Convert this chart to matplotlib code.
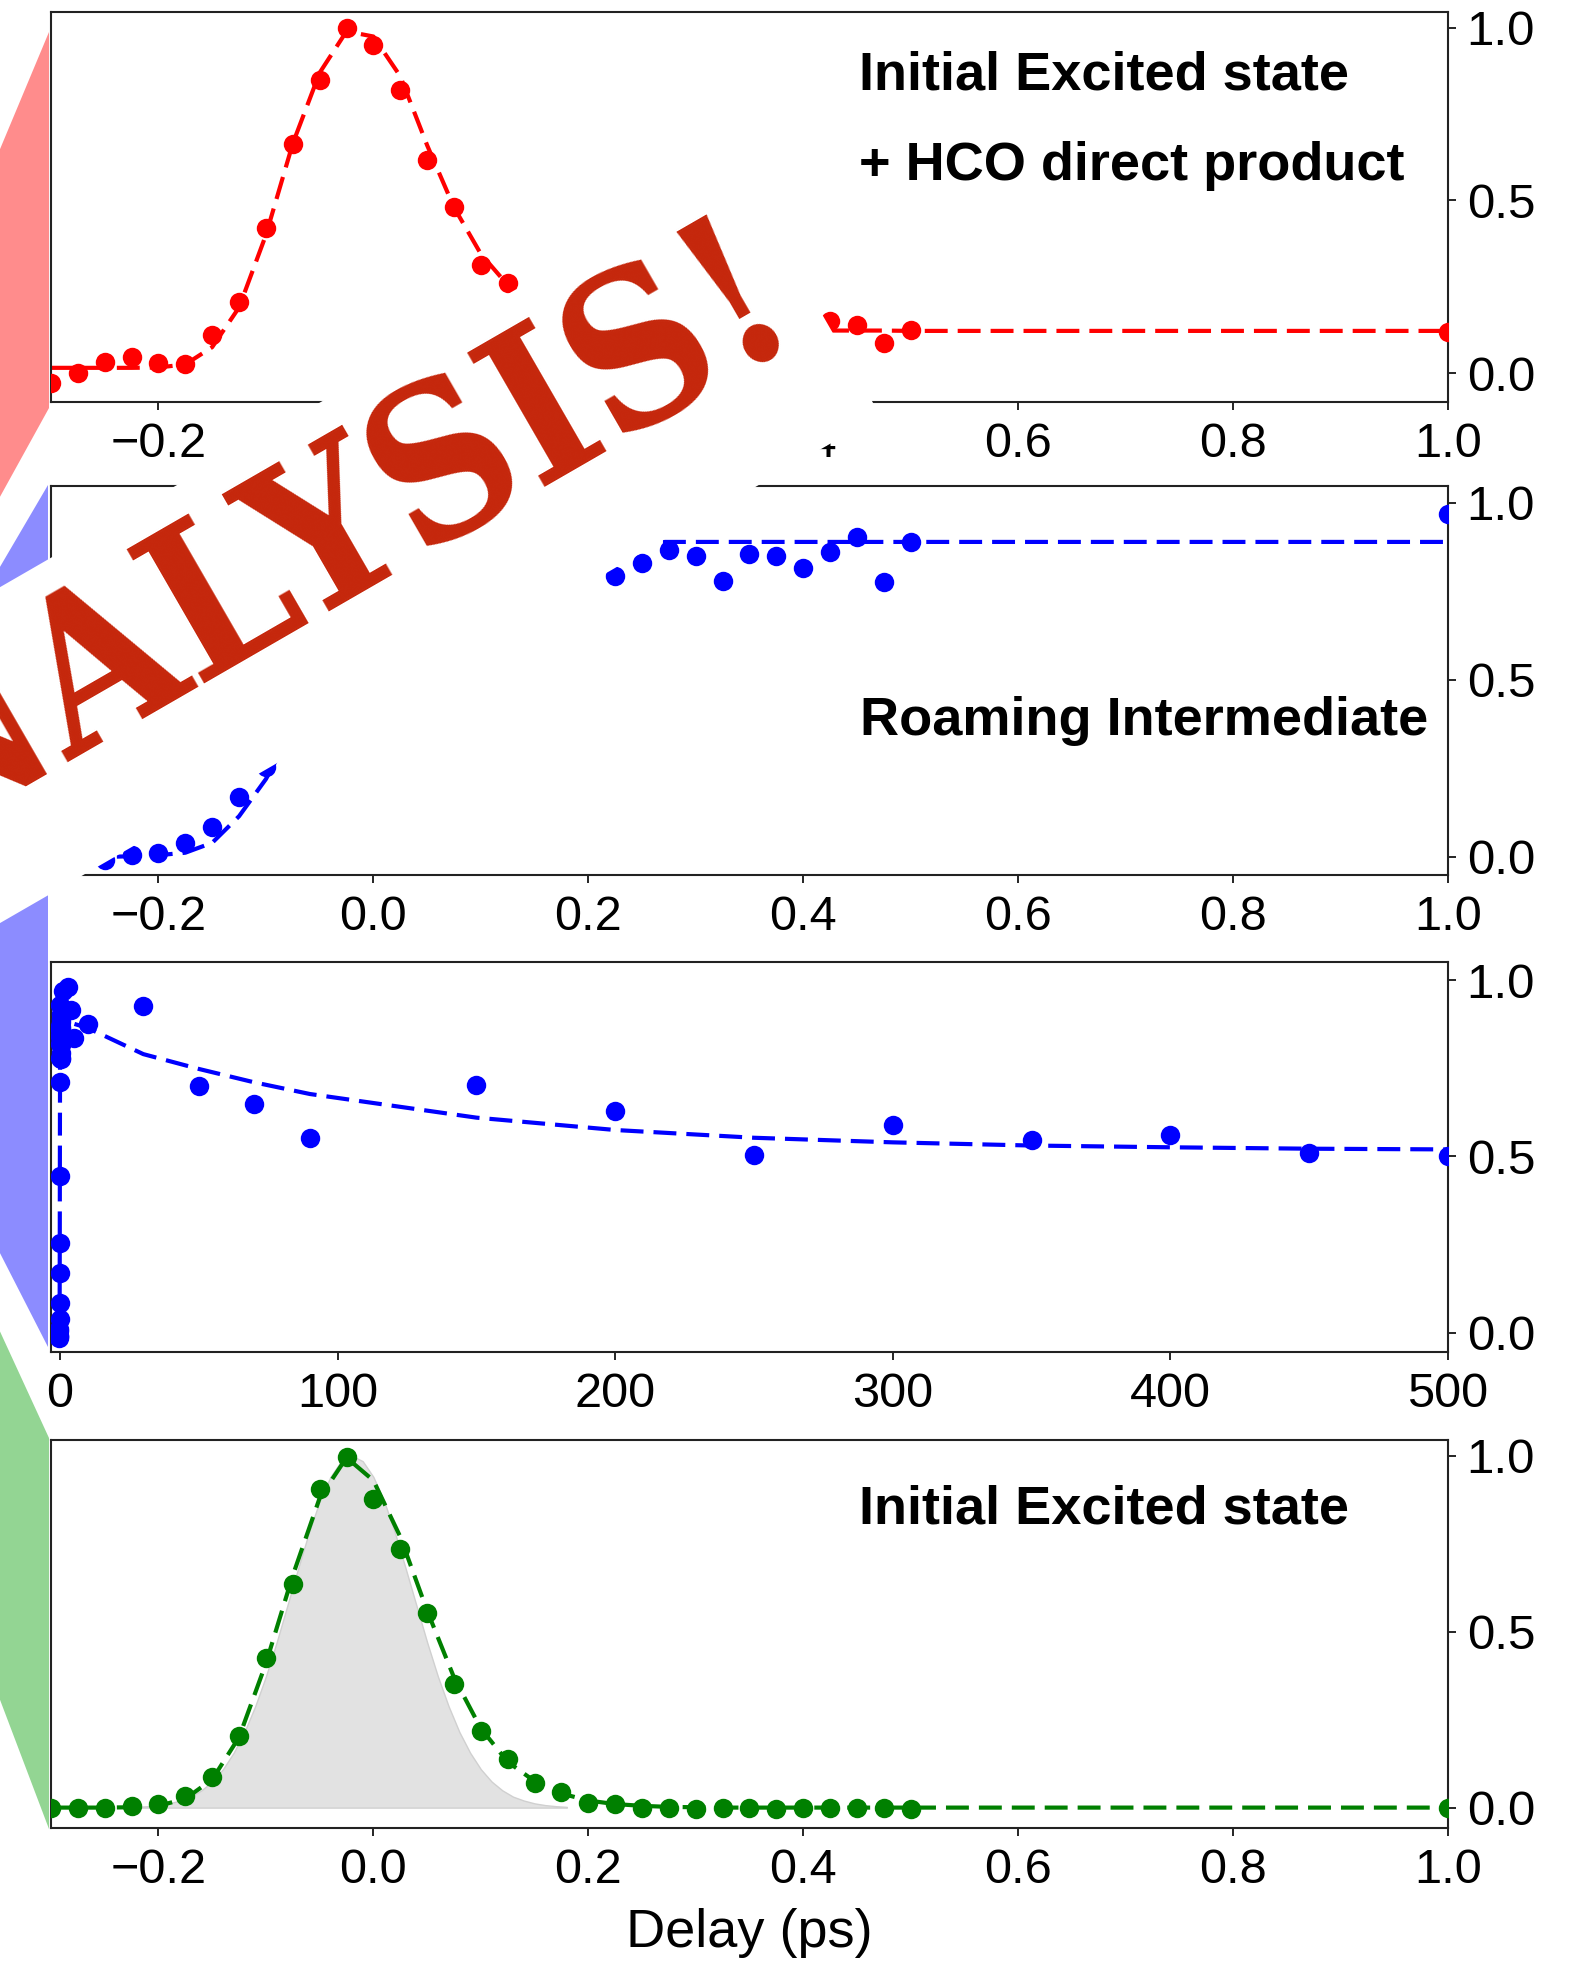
import numpy as np
import matplotlib
matplotlib.use('Agg')
import matplotlib.pyplot as plt
from matplotlib.patches import Polygon

plt.rcParams['font.family'] = ['Liberation Sans', 'DejaVu Sans']

# delays on the short (ps) scale
delay_ps = [-0.3, -0.275, -0.25, -0.225, -0.2, -0.175, -0.15, -0.125, -0.1, -0.075,
            -0.05, -0.025, 0.0, 0.025, 0.05, 0.075, 0.1, 0.125, 0.15, 0.175,
            0.2, 0.225, 0.25, 0.275, 0.3, 0.325, 0.35, 0.375, 0.4, 0.425,
            0.45, 0.475, 0.5, 1.0]

# panel 1: initial excited state + HCO direct product
red_data = [-0.03, 0.0, 0.033, 0.047, 0.03, 0.026, 0.11, 0.207, 0.42, 0.664,
            0.85, 1.0, 0.95, 0.82, 0.617, 0.482, 0.313, 0.26, 0.21, 0.17,
            0.16, 0.13, 0.14, 0.12, 0.13, 0.11, 0.13, 0.12, 0.13, 0.15,
            0.139, 0.088, 0.126, 0.118]
red_fit = [0.015, 0.015, 0.015, 0.015, 0.016, 0.025, 0.075, 0.19, 0.40, 0.665,
           0.87, 0.99, 0.975, 0.86, 0.66, 0.48, 0.345, 0.255, 0.2, 0.165,
           0.145, 0.135, 0.128, 0.125, 0.124, 0.123, 0.123, 0.123, 0.123, 0.123,
           0.123, 0.123, 0.122, 0.122]

# panel 2: roaming intermediate (ps scale)
blue_data = [-0.01, -0.015, -0.01, 0.006, 0.011, 0.04, 0.086, 0.17, 0.255, 0.445,
             0.71, 0.78, 0.84, 0.86, 0.82, 0.87, 0.84, 0.93, 0.86, 0.88,
             0.83, 0.794, 0.83, 0.868, 0.85, 0.78, 0.856, 0.85, 0.816, 0.862,
             0.905, 0.776, 0.89, 0.97]
blue_fit = [0.0, 0.0, 0.0, 0.002, 0.005, 0.012, 0.04, 0.115, 0.22, 0.36,
            0.5, 0.62, 0.71, 0.78, 0.82, 0.85, 0.865, 0.875, 0.882, 0.886,
            0.888, 0.889, 0.89, 0.89, 0.89, 0.89, 0.89, 0.89, 0.89, 0.89,
            0.89, 0.89, 0.89, 0.89]

# panel 3: roaming intermediate, long delays
delay_long = [3, 4, 5, 10, 30, 50, 70, 90, 150, 200, 250, 300, 350, 400, 450, 500]
long_data = [0.98, 0.915, 0.835, 0.875, 0.926, 0.70, 0.65, 0.552, 0.703, 0.63,
             0.504, 0.59, 0.547, 0.56, 0.51, 0.50]
long_fit = [0.885, 0.88, 0.876, 0.864, 0.79, 0.748, 0.71, 0.677, 0.61, 0.575,
            0.553, 0.54, 0.531, 0.526, 0.522, 0.52]

# panel 4: initial excited state
green_data = [0.0, 0.0, 0.0, 0.005, 0.01, 0.033, 0.087, 0.204, 0.425, 0.635,
              0.907, 0.997, 0.877, 0.734, 0.554, 0.352, 0.217, 0.138, 0.071, 0.044,
              0.013, 0.01, 0.0, 0.0, -0.005, 0.0, 0.0, -0.005, 0.0, 0.0,
              0.0, 0.0, -0.005, 0.0]
green_fit = [0.0, 0.0, 0.0, 0.001, 0.005, 0.025, 0.08, 0.2, 0.41, 0.66,
             0.88, 0.995, 0.93, 0.77, 0.56, 0.37, 0.225, 0.13, 0.075, 0.04,
             0.02, 0.01, 0.005, 0.002, 0.001, 0.0, 0.0, 0.0, 0.0, 0.0,
             0.0, 0.0, 0.0, 0.0]

# instrument response (grey area), read every 0.01 ps
irf_x = [-0.22, -0.21, -0.2, -0.19, -0.18, -0.17, -0.16, -0.15, -0.14, -0.13,
         -0.12, -0.11, -0.1, -0.09, -0.08, -0.07, -0.06, -0.05, -0.04, -0.03,
         -0.02, -0.01, 0.0, 0.01, 0.02, 0.03, 0.04, 0.05, 0.06, 0.07,
         0.08, 0.09, 0.1, 0.11, 0.12, 0.13, 0.14, 0.15, 0.16, 0.17, 0.18]
irf_y = [0.002, 0.004, 0.007, 0.012, 0.02, 0.031, 0.049, 0.074, 0.109, 0.156,
         0.215, 0.288, 0.373, 0.47, 0.575, 0.68, 0.782, 0.871, 0.94, 0.985,
         1.0, 0.985, 0.94, 0.871, 0.782, 0.68, 0.575, 0.47, 0.373, 0.288,
         0.215, 0.156, 0.109, 0.074, 0.049, 0.031, 0.02, 0.012, 0.007, 0.004, 0.002]

ps_ticks = [-0.2, 0.0, 0.2, 0.4, 0.6, 0.8, 1.0]
long_ticks = [0, 100, 200, 300, 400, 500]
y_ticks = [0.0, 0.5, 1.0]

W, H = 1589, 1963
fig = plt.figure(figsize=(W / 100, H / 100), dpi=100)


def fx(x):
    return x / W


def fy(y):
    return 1 - y / H


def style(ax, xticks, xlim, ylim):
    ax.set_xlim(*xlim)
    ax.set_ylim(*ylim)
    ax.set_xticks(xticks)
    ax.set_yticks(y_ticks)
    ax.yaxis.tick_right()
    ax.tick_params(axis='x', direction='out', length=6, width=1.2, labelsize=35, pad=8.5)
    ax.tick_params(axis='y', direction='out', length=6, width=1.2, labelsize=35.5, pad=7.5)
    for s in ax.spines.values():
        s.set_linewidth(1.5)
        s.set_color('#222222')


def draw(ax, x, y, fit, color):
    ax.plot(x, fit, '--', color=color, lw=3, dashes=(5.5, 2.4), zorder=2)
    ax.plot(x, y, 'o', color=color, ms=14, mew=0, zorder=3)


left, width = fx(51), (1448 - 51) / W

ax1 = fig.add_axes([left, fy(402), width, 390 / H])
draw(ax1, delay_ps, red_data, red_fit, 'red')
style(ax1, ps_ticks, (-0.3, 1.0), (-0.084, 1.046))

ax2 = fig.add_axes([left, fy(875), width, 389 / H])
draw(ax2, delay_ps, blue_data, blue_fit, 'blue')
style(ax2, ps_ticks, (-0.3, 1.0), (-0.051, 1.048))

ax3 = fig.add_axes([left, fy(1352), width, 390 / H])
draw(ax3, delay_ps + delay_long, blue_data + long_data, blue_fit + long_fit, 'blue')
style(ax3, long_ticks, (-3.25, 500), (-0.054, 1.051))

ax4 = fig.add_axes([left, fy(1828), width, 388 / H])
ax4.fill_between(irf_x, irf_y, 0, facecolor='#e2e2e2', edgecolor='#d0d0d0', lw=1, zorder=1)
draw(ax4, delay_ps, green_data, green_fit, 'green')
style(ax4, ps_ticks, (-0.3, 1.0), (-0.058, 1.045))
ax4.set_xlabel('Delay (ps)', fontsize=39, labelpad=10.5)

# panel labels
lab = dict(fontsize=39, fontweight='bold', ha='left', va='baseline')
fig.text(fx(859), fy(90), 'Initial Excited state', **lab)
fig.text(fx(859), fy(180), '+ HCO direct product', **lab)
fig.text(fx(860), fy(735), 'Roaming Intermediate', **lab)
fig.text(fx(859), fy(1524), 'Initial Excited state', **lab)

# coloured connectors on the left edge
side = [
    ('#ff8c8c', [(49, 32), (49, 408), (-20, 533), (-20, 197)]),
    ('#8c8cff', [(48, 485), (48, 1347), (-20, 1214), (-20, 601)]),
    ('#93d593', [(49, 1438), (49, 1829), (-20, 1647), (-20, 1288)]),
]
for col, pts in side:
    fig.patches.append(Polygon([(fx(a), fy(b)) for a, b in pts], closed=True,
                               facecolor=col, edgecolor='none',
                               transform=fig.transFigure, figure=fig, zorder=1))

# white banner with the stamp
banner = [(735, 163), (880, 415), (-400, 1154), (-400, 818)]
fig.patches.append(Polygon([(fx(a), fy(b)) for a, b in banner], closed=True,
                           facecolor='white', edgecolor='none',
                           transform=fig.transFigure, figure=fig, zorder=5))
fig.text(fx(806), fy(337), 'ANALYSIS!', rotation=30, rotation_mode='anchor',
         ha='right', va='baseline', fontsize=152, color='#c5260b',
         family='DejaVu Serif', fontweight='bold', fontstretch='condensed', zorder=6)

fig.savefig('out.png', dpi=100)
